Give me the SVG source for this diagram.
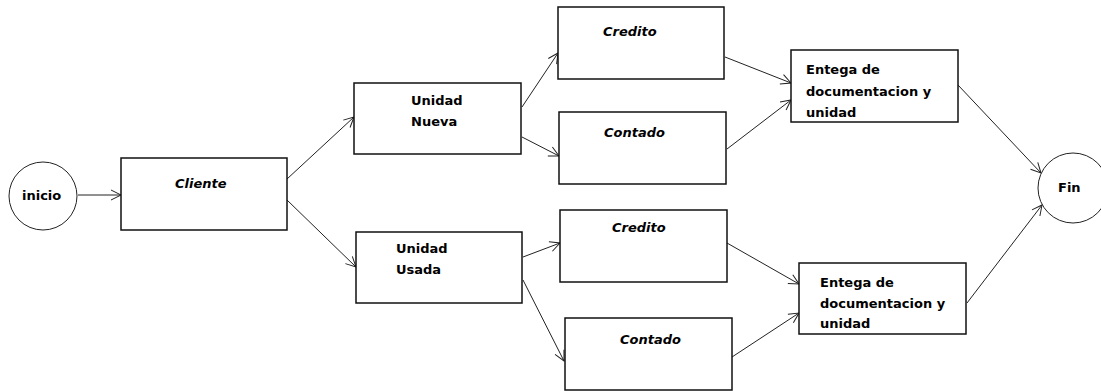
<svg xmlns="http://www.w3.org/2000/svg" width="1101" height="391" viewBox="0 0 1101 391">
  <style>
    .box { fill: #fff; stroke: #111; stroke-width: 1.5; }
    .ring { fill: #fff; stroke: #222; stroke-width: 1; }
    .lbl { font-family: "DejaVu Sans", "Liberation Sans", sans-serif; font-size: 13px; font-weight: bold; fill: #000; }
    .it { font-style: italic; }
    .edge { fill: none; stroke: #222; stroke-width: 1; marker-end: url(#open); }
  </style>
  <defs>
    <marker id="open" viewBox="0 0 12 12" refX="11" refY="6" markerWidth="12" markerHeight="12" markerUnits="userSpaceOnUse" orient="auto">
      <path d="M1,1 L11,6 L1,11" fill="none" stroke="#222" stroke-width="1"/>
    </marker>
  </defs>
  <rect width="1101" height="391" fill="#fff"/>

  <g id="connectors">
    <line class="edge" x1="78" y1="195" x2="121" y2="195"/>
    <line class="edge" x1="287" y1="179" x2="354" y2="117"/>
    <line class="edge" x1="287" y1="200" x2="356" y2="267"/>
    <line class="edge" x1="522" y1="107" x2="558" y2="53"/>
    <line class="edge" x1="522" y1="137" x2="559" y2="156"/>
    <line class="edge" x1="725" y1="57" x2="791" y2="83"/>
    <line class="edge" x1="727" y1="149" x2="791" y2="100"/>
    <line class="edge" x1="958" y1="85" x2="1041" y2="173"/>
    <line class="edge" x1="523" y1="257" x2="560" y2="243"/>
    <line class="edge" x1="523" y1="280" x2="564" y2="361"/>
    <line class="edge" x1="727" y1="243" x2="799" y2="284"/>
    <line class="edge" x1="732" y1="357" x2="799" y2="313"/>
    <line class="edge" x1="967" y1="303" x2="1042" y2="205"/>
  </g>

  <g id="inicio">
    <circle class="ring" cx="43" cy="196" r="34"/>
    <text class="lbl" x="22" y="200">inicio</text>
  </g>
  <g id="cliente">
    <rect class="box" x="121" y="158" width="166" height="72"/>
    <text class="lbl it" x="175" y="188">Cliente</text>
  </g>
  <g id="unidad-nueva">
    <rect class="box" x="354" y="83" width="167" height="71"/>
    <text class="lbl" x="411" y="105">Unidad</text>
    <text class="lbl" x="411" y="126">Nueva</text>
  </g>
  <g id="unidad-usada">
    <rect class="box" x="356" y="232" width="166" height="71"/>
    <text class="lbl" x="396" y="253">Unidad</text>
    <text class="lbl" x="396" y="274">Usada</text>
  </g>
  <g id="credito-nueva">
    <rect class="box" x="558" y="7" width="166" height="72"/>
    <text class="lbl it" x="603" y="36">Credito</text>
  </g>
  <g id="contado-nueva">
    <rect class="box" x="559" y="112" width="167" height="72"/>
    <text class="lbl it" x="604" y="137">Contado</text>
  </g>
  <g id="credito-usada">
    <rect class="box" x="560" y="210" width="167" height="72"/>
    <text class="lbl it" x="612" y="232">Credito</text>
  </g>
  <g id="contado-usada">
    <rect class="box" x="565" y="318" width="167" height="72"/>
    <text class="lbl it" x="620" y="344">Contado</text>
  </g>
  <g id="entrega-nueva">
    <rect class="box" x="791" y="50" width="167" height="72"/>
    <text class="lbl" x="806" y="74">Entega de</text>
    <text class="lbl" x="806" y="96">documentacion y</text>
    <text class="lbl" x="806" y="117">unidad</text>
  </g>
  <g id="entrega-usada">
    <rect class="box" x="799" y="263" width="167" height="71"/>
    <text class="lbl" x="820" y="287">Entega de</text>
    <text class="lbl" x="820" y="308">documentacion y</text>
    <text class="lbl" x="820" y="328">unidad</text>
  </g>
  <g id="fin">
    <circle class="ring" cx="1073" cy="188" r="35"/>
    <text class="lbl" x="1058" y="192">Fin</text>
  </g>
</svg>
